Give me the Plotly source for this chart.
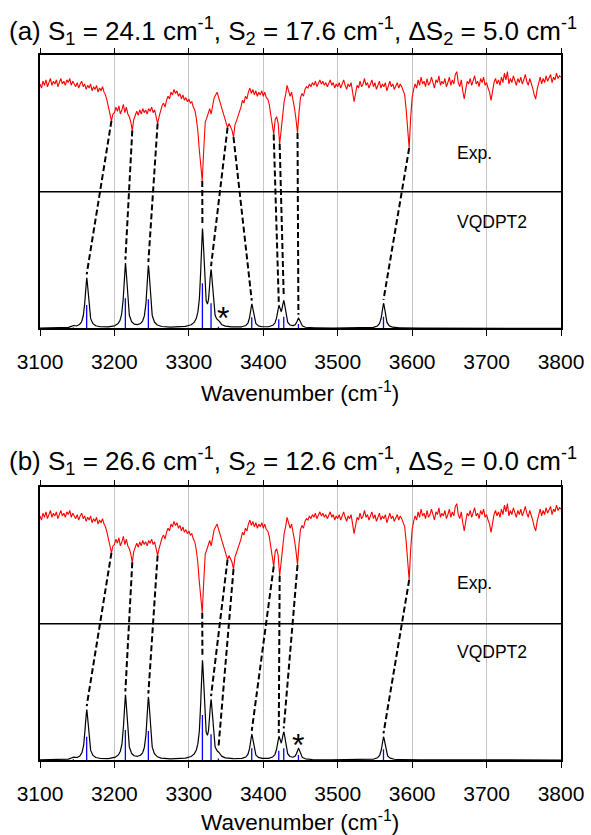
import numpy as np
import plotly.graph_objects as go

# ---------------- data ----------------
# experimental spectrum (relative transmittance, 0-100), sampled every 2 cm-1 from 3100 to 3800
exp_start, exp_stop, exp_step = 3100, 3800, 2
exp_T = [
    79, 76, 81, 78, 82, 77, 80, 83, 78, 81,   # 3100
    79, 82, 77, 80, 83, 79, 81, 78, 82, 80,   # 3120
    83, 78, 81, 79, 77, 80, 76, 79, 81, 77,   # 3140
    79, 75, 78, 76, 79, 74, 77, 75, 78, 73,   # 3160
    76, 74, 77, 73, 71, 67, 62, 57, 52, 57,   # 3180
    58, 62, 59, 63, 57, 60, 64, 58, 62, 57,   # 3200
    55, 51, 45, 53, 57, 59, 56, 60, 57, 61,   # 3220
    58, 60, 57, 61, 59, 62, 58, 60, 55, 50,   # 3240
    55, 60, 63, 65, 62, 67, 70, 68, 73, 71,   # 3260
    75, 72, 74, 70, 72, 68, 71, 67, 69, 66,   # 3280
    68, 65, 66, 62, 60, 54, 45, 31, 20, 8,    # 3300
    31, 51, 54, 57, 61, 57, 64, 69, 71, 73,   # 3320
    69, 65, 61, 58, 53, 50, 47, 50, 48, 45,   # 3340
    40, 49, 52, 55, 58, 62, 67, 65, 70, 68,   # 3360
    73, 76, 72, 75, 71, 74, 70, 73, 71, 74,   # 3380
    70, 73, 69, 68, 64, 56, 49, 42, 53, 55,   # 3400
    50, 35, 45, 58, 66, 71, 78, 74, 70, 73,   # 3420
    68, 61, 53, 43, 58, 69, 72, 70, 75, 77,   # 3440
    76, 79, 77, 80, 78, 81, 77, 80, 82, 79,   # 3460
    81, 78, 80, 77, 79, 82, 78, 80, 76, 79,   # 3480
    77, 80, 76, 79, 82, 78, 75, 79, 77, 80,   # 3500
    73, 66, 72, 78, 76, 81, 77, 79, 83, 78,   # 3520
    80, 76, 79, 82, 77, 80, 75, 78, 81, 76,   # 3540
    79, 77, 80, 74, 78, 81, 77, 79, 75, 78,   # 3560
    80, 76, 79, 77, 74, 71, 60, 45, 32, 54,   # 3580
    69, 75, 79, 76, 82, 78, 84, 79, 81, 77,   # 3600
    83, 78, 80, 84, 79, 76, 82, 80, 85, 78,   # 3620
    81, 79, 83, 77, 80, 84, 78, 82, 79, 86,   # 3640
    88, 80, 77, 82, 74, 68, 75, 81, 79, 83,   # 3660
    78, 82, 85, 79, 81, 77, 83, 80, 84, 78,   # 3680
    80, 76, 73, 67, 74, 80, 83, 79, 82, 78,   # 3700
    84, 80, 87, 82, 88, 79, 83, 80, 85, 81,   # 3720
    78, 83, 80, 84, 79, 82, 86, 81, 78, 83,   # 3740
    80, 76, 71, 68, 75, 81, 84, 79, 83, 80,   # 3760
    85, 81, 83, 86, 80, 84, 82, 87, 83, 85,   # 3780
    84,                                       # 3800
]

# VQDPT2 stick spectra (wavenumber, relative intensity)
stick_wn_a = [3144.8, 3162.7, 3214.7, 3245.6, 3318.2, 3329.8, 3339.7, 3384.5, 3420.8, 3427.5, 3447.2, 3561.5]
stick_I_a = [0.6, 17.1, 22.0, 21.2, 33.0, 18.3, 1.1, 8.1, 6.6, 8.5, 3.2, 8.5]
stick_wn_b = [3144.8, 3162.7, 3214.7, 3245.6, 3318.2, 3329.8, 3339.7, 3384.5, 3420.8, 3427.5, 3447.2, 3561.5]
stick_I_b = [0.6, 17.1, 22.0, 21.3, 33.0, 18.9, 1.1, 8.6, 6.8, 8.6, 3.7, 7.9]

# assignments: experimental band -> calculated band
assign_exp_a = [3196, 3224, 3258, 3318, 3352, 3360, 3414, 3422, 3446, 3596]
assign_calc_a = [3162.7, 3214.7, 3245.6, 3318.2, 3329.8, 3384.5, 3420.8, 3427.5, 3447.2, 3561.5]
assign_exp_b = [3196, 3224, 3258, 3318, 3352, 3360, 3414, 3422, 3446, 3596]
assign_calc_b = [3162.7, 3214.7, 3245.6, 3318.2, 3329.8, 3339.7, 3384.5, 3420.8, 3427.5, 3561.5]

# asterisk-marked calculated bands
star_a = 3345.6
star_b = 3447.2

titles = [
    "(a) S<sub>1</sub> = 24.1 cm<sup>-1</sup>, S<sub>2</sub> = 17.6 cm<sup>-1</sup>, ΔS<sub>2</sub> = 5.0 cm<sup>-1</sup>",
    "(b) S<sub>1</sub> = 26.6 cm<sup>-1</sup>, S<sub>2</sub> = 12.6 cm<sup>-1</sup>, ΔS<sub>2</sub> = 0.0 cm<sup>-1</sup>",
]
tick_vals = [3100, 3200, 3300, 3400, 3500, 3600, 3700, 3800]

HWHM = 2.6          # Lorentzian half width (cm-1)
BROAD_SCALE = 2.15  # display scale of broadened spectrum
UPPER = 100         # offset of experimental section

# ---------------- figure ----------------
W, H = 591, 835
FONT = "Liberation Sans, Arial, Helvetica, sans-serif"
exp_wn = np.arange(exp_start, exp_stop + 1, exp_step)
exp_T = np.array(exp_T, dtype=float)
assert len(exp_wn) == len(exp_T)

grid = np.linspace(3100, 3800, 2801)


def broadened(wn, I, x):
    x = np.atleast_1d(np.asarray(x, dtype=float))
    s = np.zeros_like(x)
    for w0, a in zip(wn, I):
        s += a * HWHM ** 2 / ((x - w0) ** 2 + HWHM ** 2)
    return BROAD_SCALE * s


fig = go.Figure()
panels = [
    (stick_wn_a, stick_I_a, assign_exp_a, assign_calc_a, "x", "y"),
    (stick_wn_b, stick_I_b, assign_exp_b, assign_calc_b, "x2", "y2"),
]
for swn, sI, aexp, acalc, xa, ya in panels:
    fig.add_trace(go.Scatter(x=grid, y=broadened(swn, sI, grid), mode="lines",
                             line=dict(color="black", width=1.2), xaxis=xa, yaxis=ya,
                             showlegend=False, hoverinfo="skip"))
    sx, sy = [], []
    for w0, a in zip(swn, sI):
        sx += [w0, w0, None]
        sy += [0, a, None]
    fig.add_trace(go.Scatter(x=sx, y=sy, mode="lines", line=dict(color="#0000ff", width=1.3),
                             xaxis=xa, yaxis=ya, showlegend=False, hoverinfo="skip"))
    fig.add_trace(go.Scatter(x=exp_wn, y=UPPER + exp_T, mode="lines",
                             line=dict(color="#ff0000", width=1.1), xaxis=xa, yaxis=ya,
                             showlegend=False, hoverinfo="skip"))
    dx, dy = [], []
    for we, wc in zip(aexp, acalc):
        top = UPPER + float(np.interp(we, exp_wn, exp_T))
        bot = float(broadened(swn, sI, wc)[0]) + 2.5
        dx += [we, wc, None]
        dy += [top, bot, None]
    fig.add_trace(go.Scatter(x=dx, y=dy, mode="lines",
                             line=dict(color="black", width=2, dash="6px,3px"),
                             xaxis=xa, yaxis=ya, showlegend=False, hoverinfo="skip"))

xdom = [40 / W, 561 / W]
ydom_a = [1 - 328.3 / H, 1 - 55.3 / H]
ydom_b = [1 - 760.0 / H, 1 - 487.3 / H]

xcommon = dict(range=[3100, 3800], domain=xdom, tickvals=tick_vals,
               ticktext=[str(v) for v in tick_vals], ticks="outside", ticklen=6, tickwidth=1.3,
               tickcolor="black", showline=True, linecolor="black", linewidth=1.5, mirror="ticks",
               showgrid=True, gridcolor="#c4c4c4", gridwidth=1, zeroline=False, automargin=False,
               tickfont=dict(family=FONT, size=21, color="black"), ticklabelstandoff=8)
ycommon = dict(range=[0, 200], showline=True, linecolor="black", linewidth=1.5, mirror=True,
               showgrid=False, zeroline=False, showticklabels=False, ticks="", automargin=False)

fig.update_layout(
    width=W, height=H, margin=dict(l=0, r=0, t=0, b=0, autoexpand=False),
    paper_bgcolor="white", plot_bgcolor="white",
    xaxis=dict(anchor="y", **xcommon),
    yaxis=dict(anchor="x", domain=ydom_a, **ycommon),
    xaxis2=dict(anchor="y2", **xcommon),
    yaxis2=dict(anchor="x2", domain=ydom_b, **ycommon),
    font=dict(family=FONT, color="black"),
)

shapes = []
for xa, ya in (("x", "y"), ("x2", "y2")):
    shapes.append(dict(type="line", xref=f"{xa} domain", yref=ya, x0=0, x1=1, y0=UPPER, y1=UPPER,
                       line=dict(color="black", width=1.5), layer="above"))
fig.update_layout(shapes=shapes)

ann = []
ann.append(dict(text=titles[0], xref="paper", yref="paper", x=7 / W, y=1 - 31 / H,
                xanchor="left", yanchor="middle", showarrow=False, font=dict(size=26)))
ann.append(dict(text=titles[1], xref="paper", yref="paper", x=7 / W, y=1 - 461 / H,
                xanchor="left", yanchor="middle", showarrow=False, font=dict(size=26)))
for yy in (392, 821):
    ann.append(dict(text="Wavenumber (cm<sup>-1</sup>)", xref="paper", yref="paper",
                    x=300.5 / W, y=1 - yy / H, xanchor="center", yanchor="middle",
                    showarrow=False, font=dict(size=22.5)))
for txt, yy in (("Exp.", 153), ("VQDPT2", 221.7), ("Exp.", 583.3), ("VQDPT2", 651.7)):
    ann.append(dict(text=txt, xref="paper", yref="paper", x=455 / W, y=1 - yy / H,
                    xanchor="left", yanchor="middle", showarrow=False, font=dict(size=17.5)))
ann.append(dict(text="*", xref="x", yref="paper", x=star_a, y=1 - 318 / H, xanchor="center",
                yanchor="middle", showarrow=False, font=dict(size=32)))
ann.append(dict(text="*", xref="x2", yref="paper", x=star_b, y=1 - 745 / H, xanchor="center",
                yanchor="middle", showarrow=False, font=dict(size=32)))
fig.update_layout(annotations=ann)

fig.write_html("out.html")
